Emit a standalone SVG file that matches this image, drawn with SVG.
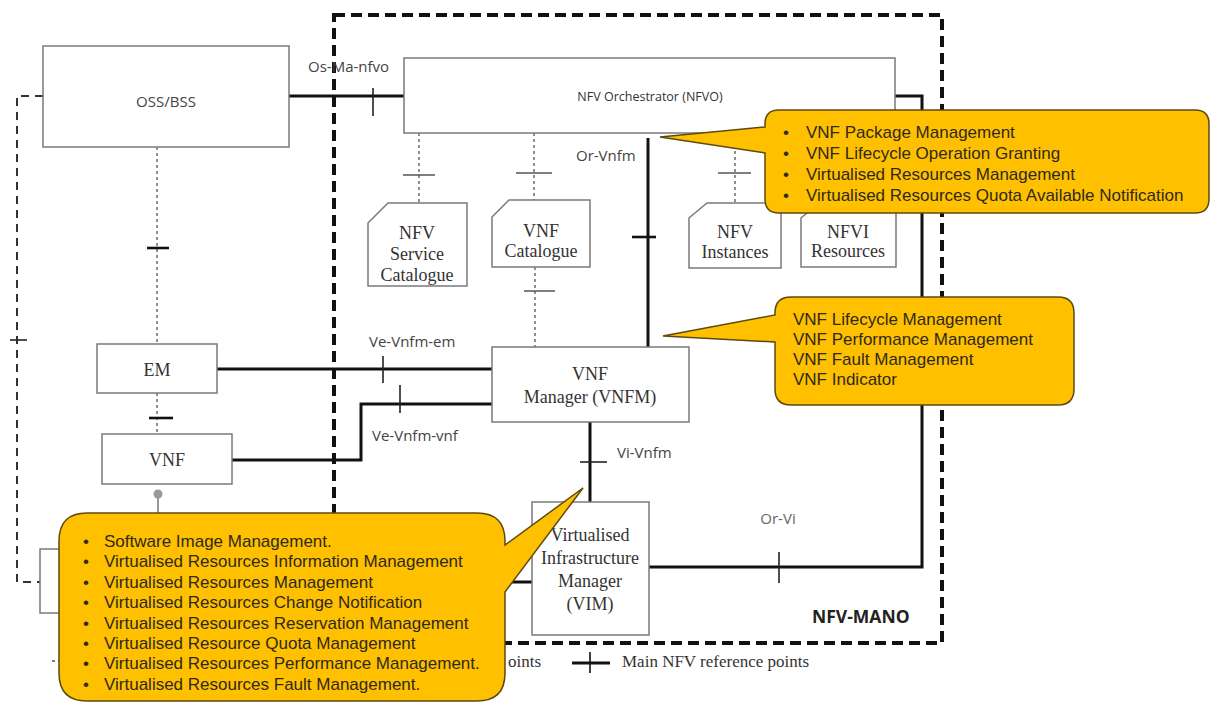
<svg xmlns="http://www.w3.org/2000/svg" width="1213" height="704" viewBox="0 0 1213 704">
  <style>
    .box { fill: #fff; stroke: #7a7a7a; stroke-width: 1.5; }
    .store { fill: #fff; stroke: #7a7a7a; stroke-width: 1.5; }
    .ref { fill: none; stroke: #111; stroke-width: 3; }
    .tick { fill: none; stroke: #222; stroke-width: 1.6; }
    .tickb { fill: none; stroke: #111; stroke-width: 2.6; }
    .dot { fill: none; stroke: #555; stroke-width: 1.3; stroke-dasharray: 3 3; }
    .dtick { fill: none; stroke: #555; stroke-width: 1.5; }
    .ext { fill: none; stroke: #333; stroke-width: 2; stroke-dasharray: 8 6; }
    .mano { fill: none; stroke: #111; stroke-width: 4; stroke-dasharray: 11 6; }
    .sans { font-family: "Open Sans", "Liberation Sans", sans-serif; font-size: 15px; fill: #444; }
    .serif { font-family: "Liberation Serif", "DejaVu Serif", serif; font-size: 18px; fill: #333; text-anchor: middle; }
    .note { fill: #FFC000; stroke: #5c4a10; stroke-width: 1.5; }
    .ntext { font-family: "Liberation Sans", Arial, sans-serif; font-size: 17px; fill: #2e2a1a; }
  </style>

  <!-- NFV-MANO boundary -->
  <g id="nfv-mano">
    <rect class="mano" x="334" y="15" width="608" height="628"/>
    <text x="812" y="623" style="font-family: 'Open Sans', 'Liberation Sans', sans-serif; font-size: 17.5px; font-weight: 700; fill: #222;">NFV-MANO</text>
  </g>

  <!-- connectors -->
  <g id="connectors">
    <!-- OSS/BSS to NFVI (dashed) -->
    <path class="ext" d="M43,96 H17 V582 H40"/>
    <line class="tick" x1="10" y1="340" x2="27" y2="340"/>

    <!-- Os-Ma-nfvo -->
    <line class="ref" x1="289" y1="96" x2="404" y2="96"/>
    <line class="tick" x1="373" y1="88" x2="373" y2="116"/>
    <text class="sans" x="308" y="72">Os-Ma-nfvo</text>

    <!-- OSS/BSS to EM, EM to VNF -->
    <line class="dot" x1="157" y1="147" x2="157" y2="344"/>
    <line class="tickb" x1="147" y1="248" x2="169" y2="248"/>
    <line class="dot" x1="157" y1="393" x2="157" y2="434"/>
    <line class="tickb" x1="149" y1="418" x2="173" y2="418"/>

    <!-- NFVO to repositories -->
    <line class="dot" x1="419" y1="133" x2="419" y2="203"/>
    <line class="dtick" x1="403" y1="175" x2="435" y2="175"/>
    <line class="dot" x1="534" y1="133" x2="534" y2="200"/>
    <line class="dtick" x1="516" y1="173" x2="552" y2="173"/>
    <line class="dot" x1="735" y1="133" x2="735" y2="203"/>
    <line class="dtick" x1="718" y1="173" x2="751" y2="173"/>

    <!-- VNF Catalogue to VNFM -->
    <line class="dot" x1="535" y1="267" x2="535" y2="347"/>
    <line class="dtick" x1="524" y1="291" x2="555" y2="291"/>

    <!-- Or-Vnfm -->
    <line class="ref" x1="648" y1="138" x2="648" y2="347"/>
    <line class="tickb" x1="632" y1="237" x2="656" y2="237"/>
    <text class="sans" x="576" y="161">Or-Vnfm</text>

    <!-- Ve-Vnfm-em -->
    <line class="ref" x1="217" y1="369" x2="492" y2="369"/>
    <line class="tick" x1="383" y1="356" x2="383" y2="383"/>
    <text class="sans" x="369" y="347">Ve-Vnfm-em</text>

    <!-- Ve-Vnfm-vnf -->
    <path class="ref" d="M232,460 H361 V404 H492"/>
    <line class="tick" x1="400" y1="385" x2="400" y2="413"/>
    <text class="sans" x="372" y="441">Ve-Vnfm-vnf</text>

    <!-- Vi-Vnfm -->
    <line class="ref" x1="590" y1="422" x2="590" y2="502"/>
    <line class="tick" x1="580" y1="462" x2="607" y2="462"/>
    <text class="sans" x="617" y="458">Vi-Vnfm</text>

    <!-- Or-Vi -->
    <path class="ref" d="M895,96 H922 V567 H649"/>
    <line class="tick" x1="779" y1="552" x2="779" y2="583"/>
    <text class="sans" x="778" y="524" text-anchor="middle" style="fill:#666">Or-Vi</text>

    <!-- Nf-Vi -->
    <line class="ref" x1="300" y1="582" x2="532" y2="582"/>

    <!-- Vn-Nf -->
    <circle cx="158" cy="494" r="4.5" fill="#999"/>
    <line x1="158" y1="498" x2="158" y2="520" stroke="#999" stroke-width="2"/>
  </g>

  <!-- functional blocks -->
  <g id="oss-bss">
    <rect class="box" x="43" y="46" width="246" height="101"/>
    <text class="sans" x="166" y="107" text-anchor="middle">OSS/BSS</text>
  </g>

  <g id="nfvo">
    <rect class="box" x="404" y="58" width="491" height="75"/>
    <text class="sans" x="650" y="101" text-anchor="middle" style="font-size:12.5px; fill:#333">NFV Orchestrator (NFVO)</text>
  </g>

  <g id="nfv-service-catalogue">
    <path class="store" d="M368,223 L388,203 H467 V286 H368 Z"/>
    <text class="serif" x="417" y="239">NFV</text>
    <text class="serif" x="417" y="260">Service</text>
    <text class="serif" x="417" y="281">Catalogue</text>
  </g>

  <g id="vnf-catalogue">
    <path class="store" d="M492,217 L509,200 H590 V267 H492 Z"/>
    <text class="serif" x="541" y="237">VNF</text>
    <text class="serif" x="541" y="257">Catalogue</text>
  </g>

  <g id="nfv-instances">
    <path class="store" d="M689,218 L707,203 H781 V268 H689 Z"/>
    <text class="serif" x="735" y="238">NFV</text>
    <text class="serif" x="735" y="258">Instances</text>
  </g>

  <g id="nfvi-resources">
    <path class="store" d="M801,218 L819,203 H896 V267 H801 Z"/>
    <text class="serif" x="848" y="238">NFVI</text>
    <text class="serif" x="848" y="257">Resources</text>
  </g>

  <g id="em">
    <rect class="box" x="97" y="344" width="120" height="49"/>
    <text class="serif" x="157" y="376">EM</text>
  </g>

  <g id="vnf">
    <rect class="box" x="102" y="434" width="130" height="50"/>
    <text class="serif" x="167" y="466">VNF</text>
  </g>

  <g id="vnfm">
    <rect class="box" x="492" y="347" width="197" height="75"/>
    <text class="serif" x="590" y="380">VNF</text>
    <text class="serif" x="590" y="403">Manager (VNFM)</text>
  </g>

  <g id="vim">
    <rect class="box" x="532" y="502" width="117" height="133"/>
    <text class="serif" x="590" y="541">Virtualised</text>
    <text class="serif" x="590" y="564">Infrastructure</text>
    <text class="serif" x="590" y="587">Manager</text>
    <text class="serif" x="590" y="610">(VIM)</text>
  </g>

  <g id="nfvi">
    <rect class="box" x="40" y="549" width="260" height="64"/>
  </g>

  <!-- legend -->
  <g id="legend">
    <line class="dot" x1="52" y1="661" x2="110" y2="661"/>
    <text class="serif" x="541" y="667" style="text-anchor:end; font-size:17px">oints</text>
    <line x1="572" y1="663" x2="610" y2="663" stroke="#111" stroke-width="3"/>
    <line x1="590" y1="652" x2="590" y2="673" stroke="#111" stroke-width="1.6"/>
    <text class="serif" x="622" y="667" style="text-anchor:start; font-size:17px">Main NFV reference points</text>
  </g>

  <!-- callouts -->
  <g id="callout-nfvo">
    <path class="note" d="M779,110 H1195 Q1209,110 1209,124 V199 Q1209,213 1195,213 H779 Q765,213 765,199 V153 L660,137 L765,127 V124 Q765,110 779,110 Z"/>
    <g class="ntext">
      <text x="783" y="138">•</text><text x="806" y="138">VNF Package Management</text>
      <text x="783" y="159">•</text><text x="806" y="159">VNF Lifecycle Operation Granting</text>
      <text x="783" y="180">•</text><text x="806" y="180">Virtualised Resources Management</text>
      <text x="783" y="201">•</text><text x="806" y="201">Virtualised Resources Quota Available Notification</text>
    </g>
  </g>

  <g id="callout-vnfm">
    <path class="note" d="M791,297 H1058 Q1074,297 1074,313 V389 Q1074,405 1058,405 H791 Q775,405 775,389 V342 L663,336 L775,315 V313 Q775,297 791,297 Z"/>
    <g class="ntext">
      <text x="793" y="325">VNF Lifecycle Management</text>
      <text x="793" y="345">VNF Performance Management</text>
      <text x="793" y="365">VNF Fault Management</text>
      <text x="793" y="385">VNF Indicator</text>
    </g>
  </g>

  <g id="callout-vim">
    <path class="note" d="M87,513 H477 Q505,513 505,541 V545 L583,488 L505,592 V673 Q505,701 477,701 H87 Q59,701 59,673 V541 Q59,513 87,513 Z"/>
    <g class="ntext">
      <text x="83" y="547">•</text><text x="104" y="547">Software Image Management.</text>
      <text x="83" y="567">•</text><text x="104" y="567">Virtualised Resources Information Management</text>
      <text x="83" y="588">•</text><text x="104" y="588">Virtualised Resources Management</text>
      <text x="83" y="608">•</text><text x="104" y="608">Virtualised Resources Change Notification</text>
      <text x="83" y="629">•</text><text x="104" y="629">Virtualised Resources Reservation Management</text>
      <text x="83" y="649">•</text><text x="104" y="649">Virtualised Resource Quota Management</text>
      <text x="83" y="669">•</text><text x="104" y="669">Virtualised Resources Performance Management.</text>
      <text x="83" y="690">•</text><text x="104" y="690">Virtualised Resources Fault Management.</text>
    </g>
  </g>
</svg>
